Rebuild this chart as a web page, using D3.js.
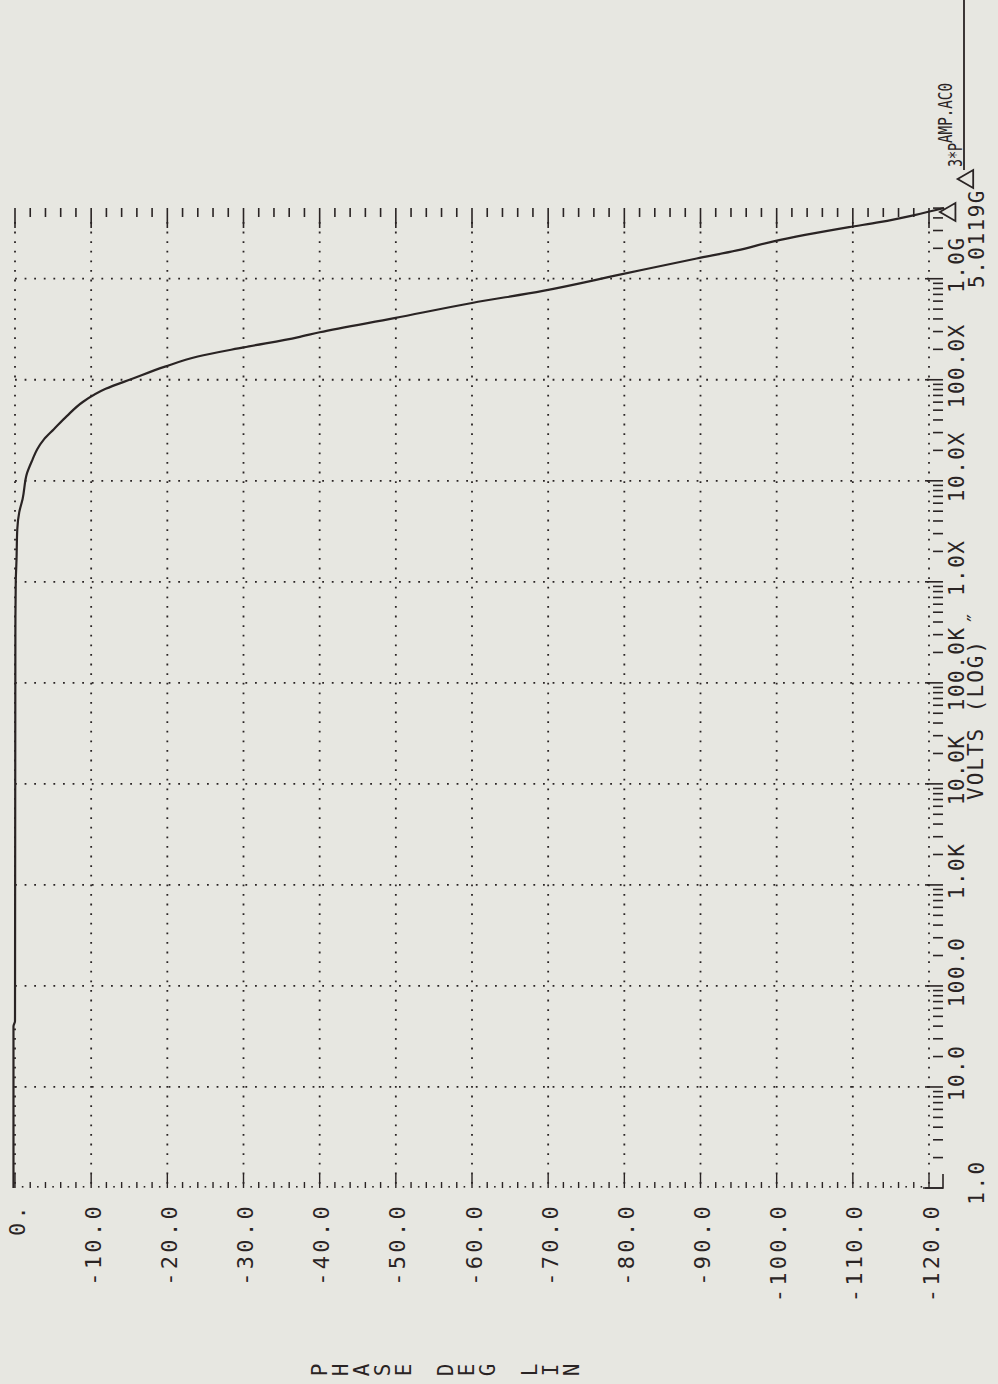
<!DOCTYPE html>
<html>
<head>
<meta charset="utf-8">
<script src="https://cdn.jsdelivr.net/npm/d3@7"></script>
<style>
  html, body { margin: 0; padding: 0; background: #e7e7e1; }
  svg { display: block; }
  text { font-family: "DejaVu Sans Mono", monospace; fill: #2a2424; }
</style>
</head>
<body>
<svg id="chart" width="998" height="1384"></svg>
<script>
// ---- data ----
const logVolts = [0, 1.6, 1.65, 5.5, 6.0, 6.22, 6.52, 6.69, 6.82, 7.08, 7.21, 7.31, 7.41, 7.51, 7.64, 7.78, 7.91, 8.01, 8.13, 8.23, 8.32, 8.42, 8.47, 8.61, 8.76, 8.88, 9.04, 9.20, 9.28, 9.37, 9.51, 9.56, 9.63, 9.7];
const phaseDeg = [0.2, 0.2, 0, -0.05, -0.1, -0.2, -0.3, -0.56, -1.0, -1.6, -2.3, -2.9, -3.8, -5.1, -6.8, -8.9, -11.9, -15.4, -19.7, -24.0, -30.0, -37.1, -40, -49.8, -60, -69.3, -79.4, -89.5, -94.8, -99.6, -109.5, -113.5, -118.1, -122];
const phaseTicks = [0, -10, -20, -30, -40, -50, -60, -70, -80, -90, -100, -110, -120];
const phaseTickLabels = ["0.", "-10.0", "-20.0", "-30.0", "-40.0", "-50.0", "-60.0", "-70.0", "-80.0", "-90.0", "-100.0", "-110.0", "-120.0"];
const decadeTicks = [1e1, 1e2, 1e3, 1e4, 1e5, 1e6, 1e7, 1e8, 1e9];
const decadeLabels = ["10.0", "100.0", "1.0K", "10.0K", "100.0K", "1.0X", "10.0X", "100.0X", "1.0G"];
const voltsMin = 1, voltsMax = Math.pow(10, 9.7);
const endLabels = ["1.0", "5.0119G"];
const xTitle = "VOLTS (LOG) \u2033";
const yTitle = "PHASE DEG LIN";
const legendLines = ["AMP.AC0", "3*P"];

// ---- scales (page is rotated: phase runs left->right, volts bottom->top) ----
const svg = d3.select("#chart");
const px = d3.scaleLinear().domain([0, -120]).range([15, 929]);
const vy = d3.scaleLog().domain([voltsMin, voltsMax]).range([1188, 208]);

const ink = "#2a2424";
const g = svg.append("g");

// dotted grid: phase lines (vertical)
g.selectAll("line.pg").data(phaseTicks).enter().append("line")
  .attr("x1", d => px(d)).attr("x2", d => px(d))
  .attr("y1", vy(voltsMax) + 14).attr("y2", vy(voltsMin))
  .attr("stroke", ink).attr("stroke-width", 1.8)
  .attr("stroke-dasharray", "1.8,7.8");
// dotted grid: decades (horizontal)
g.selectAll("line.vg").data(decadeTicks).enter().append("line")
  .attr("y1", d => vy(d)).attr("y2", d => vy(d))
  .attr("x1", px(0)).attr("x2", px(-120))
  .attr("stroke", ink).attr("stroke-width", 1.8)
  .attr("stroke-dasharray", "1.8,7.8");

// top edge ticks (every 2 deg)
const minorPhase = d3.range(0, -121, -2);
g.selectAll("line.tt").data(minorPhase).enter().append("line")
  .attr("x1", d => px(d)).attr("x2", d => px(d))
  .attr("y1", vy(voltsMax)).attr("y2", d => vy(voltsMax) + (d % 10 === 0 ? 20 : 9))
  .attr("stroke", ink).attr("stroke-width", 1.6);
// bottom edge ticks
g.selectAll("line.bt").data(minorPhase).enter().append("line")
  .attr("x1", d => px(d)).attr("x2", d => px(d))
  .attr("y1", vy(voltsMin)).attr("y2", d => vy(voltsMin) - (d % 10 === 0 ? 14 : 6))
  .attr("stroke", ink).attr("stroke-width", 1.4);
g.selectAll("rect.bd").data(d3.range(-1, -120, -2)).enter().append("rect")
  .attr("x", d => px(d) - 0.8).attr("y", vy(voltsMin) - 2).attr("width", 1.6).attr("height", 1.6)
  .attr("fill", ink);

// right edge log ticks
const logMinor = [];
for (let e = 0; e <= 9; e++) for (let m = 1; m <= 9; m++) {
  const v = m * Math.pow(10, e);
  if (v <= voltsMax) logMinor.push(v);
}
g.selectAll("line.rt").data(logMinor).enter().append("line")
  .attr("y1", d => vy(d)).attr("y2", d => vy(d))
  .attr("x1", d => (Math.abs(Math.log10(d) % 1) < 1e-9 ? px(-120) - 4 : px(-120) + 4))
  .attr("x2", px(-120) + 14)
  .attr("stroke", ink).attr("stroke-width", 1.6);
// corner
g.append("path")
  .attr("d", `M${px(-120) - 6},${vy(voltsMin)} H${px(-120) + 14} V${vy(voltsMin) - 14}`)
  .attr("fill", "none").attr("stroke", ink).attr("stroke-width", 1.6);

// phase tick labels (rotated)
g.selectAll("text.pl").data(phaseTicks).enter().append("text")
  .attr("transform", d => `translate(${px(d) + 2},1203) rotate(-90)`)
  .attr("text-anchor", "end").attr("dominant-baseline", "central")
  .style("font-size", "22px").style("letter-spacing", "3.3px")
  .text((d, i) => phaseTickLabels[i]);

// decade labels
g.selectAll("text.dl").data(decadeTicks).enter().append("text")
  .attr("transform", d => `translate(957,${vy(d) - 14}) rotate(-90)`)
  .attr("text-anchor", "middle").attr("dominant-baseline", "central")
  .style("font-size", "21px").style("letter-spacing", "1.5px")
  .text((d, i) => decadeLabels[i]);

// end labels
g.append("text")
  .attr("transform", `translate(977,${vy(voltsMin) - 6}) rotate(-90)`)
  .attr("text-anchor", "middle").attr("dominant-baseline", "central")
  .style("font-size", "21px").style("letter-spacing", "2.5px")
  .text(endLabels[0]);
g.append("text")
  .attr("transform", `translate(977,${vy(voltsMax) + 80}) rotate(-90)`)
  .attr("text-anchor", "start").attr("dominant-baseline", "central")
  .style("font-size", "21px").style("letter-spacing", "1.5px")
  .text(endLabels[1]);

// x title
g.append("text")
  .attr("transform", `translate(976,800) rotate(-90)`)
  .attr("text-anchor", "start").attr("dominant-baseline", "central")
  .style("font-size", "21px").style("letter-spacing", "2px")
  .text(xTitle);

// y title: letters individually rotated, placed left to right
g.selectAll("text.yt").data(yTitle.split("")).enter().append("text")
  .attr("transform", (d, i) => `translate(${320 + i * 21},1370) rotate(-90)`)
  .attr("text-anchor", "middle").attr("dominant-baseline", "central")
  .style("font-size", "21px")
  .text(d => d);

// curve
const pts = logVolts.map((l, i) => [px(phaseDeg[i]), vy(Math.pow(10, l))]);
g.append("path")
  .attr("d", d3.line().curve(d3.curveMonotoneY)(pts))
  .attr("fill", "none").attr("stroke", ink).attr("stroke-width", 2.2);

// end marker
const last = pts[pts.length - 1];
g.append("path")
  .attr("d", d3.symbol().type(d3.symbolTriangle).size(140)())
  .attr("transform", `translate(${last[0] + 6},${last[1] + 4}) rotate(-90)`)
  .attr("fill", "none").attr("stroke", ink).attr("stroke-width", 1.8);

// legend
g.append("line").attr("x1", 964).attr("x2", 964).attr("y1", 0).attr("y2", 170)
  .attr("stroke", ink).attr("stroke-width", 1.8);
g.append("text")
  .attr("transform", `translate(945,143) rotate(-90)`)
  .attr("text-anchor", "start").attr("dominant-baseline", "central")
  .attr("textLength", 60).attr("lengthAdjust", "spacingAndGlyphs")
  .style("font-size", "19px")
  .text(legendLines[0]);
g.append("text")
  .attr("transform", `translate(955,167) rotate(-90)`)
  .attr("text-anchor", "start").attr("dominant-baseline", "central")
  .attr("textLength", 24).attr("lengthAdjust", "spacingAndGlyphs")
  .style("font-size", "19px")
  .text(legendLines[1]);
g.append("path")
  .attr("d", d3.symbol().type(d3.symbolTriangle).size(140)())
  .attr("transform", `translate(968,179) rotate(-90)`)
  .attr("fill", "none").attr("stroke", ink).attr("stroke-width", 1.8);
</script>
</body>
</html>
